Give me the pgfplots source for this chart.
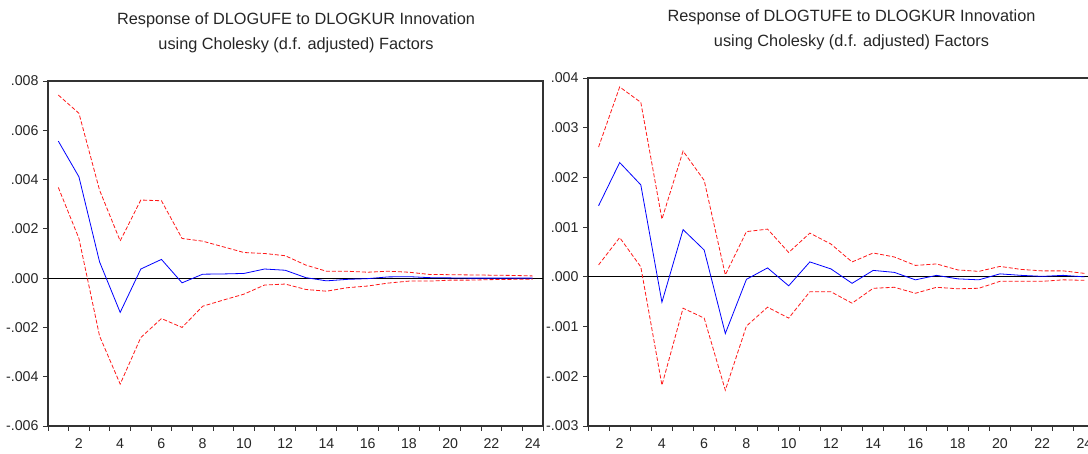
\documentclass[border=0pt]{standalone}
\usepackage{fontspec}
\setmainfont{Liberation Sans}
\usepackage{pgfplots}
\usepackage{pgfplotstable}
\pgfplotsset{compat=1.18}

\pgfplotstableread{
k resp up lo
1 0.00556 0.00743 0.00368
2 0.00411 0.00669 0.00161
3 0.00066 0.00357 -0.00235
4 -0.00139 0.00151 -0.00430
5 0.00037 0.00317 -0.00241
6 0.00076 0.00314 -0.00164
7 -0.00019 0.00161 -0.00200
8 0.00016 0.00150 -0.00114
9 0.00017 0.00127 -0.00089
10 0.00019 0.00104 -0.00065
11 0.00037 0.00100 -0.00028
12 0.00032 0.00091 -0.00024
13 0.00002 0.00053 -0.00046
14 -0.00011 0.00028 -0.00053
15 -0.00005 0.00028 -0.00039
16 -0.00002 0.00024 -0.00032
17 0.00005 0.00028 -0.00020
18 0.00006 0.00024 -0.00012
19 0.00002 0.00015 -0.00012
20 0.00001 0.00014 -0.00008
21 0.00000 0.00013 -0.00008
22 0.00000 0.00012 -0.00006
23 0.00000 0.00011 -0.00005
24 0.00000 0.00009 -0.00004
}\leftdata

\pgfplotstableread{
k resp up lo
1 0.00143 0.00261 0.00024
2 0.00230 0.00382 0.00079
3 0.00185 0.00351 0.00020
4 -0.00051 0.00116 -0.00218
5 0.00095 0.00253 -0.00063
6 0.00054 0.00194 -0.00083
7 -0.00114 0.00004 -0.00228
8 -0.00005 0.00091 -0.00099
9 0.00018 0.00096 -0.00061
10 -0.00018 0.00049 -0.00083
11 0.00030 0.00088 -0.00030
12 0.00016 0.00066 -0.00030
13 -0.00013 0.00030 -0.00053
14 0.00013 0.00048 -0.00023
15 0.00009 0.00040 -0.00021
16 -0.00006 0.00023 -0.00033
17 0.00003 0.00026 -0.00021
18 -0.00004 0.00014 -0.00024
19 -0.00006 0.00011 -0.00023
20 0.00006 0.00021 -0.00009
21 0.00003 0.00015 -0.00009
22 0.00001 0.00012 -0.00009
23 0.00003 0.00012 -0.00006
24 0.00000 0.00007 -0.00007
}\rightdata

\pgfplotsset{
  irf/.style={
    scale only axis,
    anchor=south west,
    xmin=0.5, xmax=24.5,
    axis line style={black!80, line width=1.2pt},
    tick pos=left,
    tick align=outside,
    xtick={2,4,...,24},
    major x tick style={draw=none},
    minor xtick={0.5,1.5,...,24.5},
    minor tick length=5pt,
    major tick length=5pt,
    tick style={black!80, line width=0.9pt},
    scaled y ticks=false,
    ticklabel style={font=\fontsize{14.2}{16}\selectfont, text=black!85},
    /pgf/number format/assume math mode=true,
    xticklabel style={yshift=-4pt},
    yticklabel style={xshift=-1pt},
    clip=true,
  },
  resp/.style={blue, line width=0.8pt},
  band/.style={red!90!white, line width=0.8pt, dash pattern=on 4pt off 2pt},
}

\begin{document}
\begin{tikzpicture}
\path[use as bounding box] (0pt,0pt) rectangle (1088pt,454pt);

% Left panel
\begin{axis}[irf,
  at={(48pt,28pt)},
  width=495pt, height=345pt,
  ymin=-0.006, ymax=0.008,
  ytick={-0.006,-0.004,-0.002,0,0.002,0.004,0.006,0.008},
  yticklabels={-.006,-.004,-.002,.000,.002,.004,.006,.008},
]
\draw[black, line width=0.8pt] (axis cs:0.5,0) -- (axis cs:24.5,0);
\addplot[resp] table[x=k,y=resp] {\leftdata};
\addplot[band] table[x=k,y=up] {\leftdata};
\addplot[band] table[x=k,y=lo] {\leftdata};
\end{axis}

% Right panel
\begin{axis}[irf,
  at={(588pt,28pt)},
  width=507pt, height=348pt,
  ymin=-0.003, ymax=0.004,
  ytick={-0.003,-0.002,-0.001,0,0.001,0.002,0.003,0.004},
  yticklabels={-.003,-.002,-.001,.000,.001,.002,.003,.004},
]
\draw[black, line width=0.8pt] (axis cs:0.5,0) -- (axis cs:24.5,0);
\addplot[resp] table[x=k,y=resp] {\rightdata};
\addplot[band] table[x=k,y=up] {\rightdata};
\addplot[band] table[x=k,y=lo] {\rightdata};
\end{axis}

% Titles
\begin{scope}[every node/.style={font=\fontsize{16.3}{19}\selectfont, text=black!85, inner sep=0pt, anchor=base}]
\node at (296pt,429pt) {Response of DLOGUFE to DLOGKUR Innovation};
\node at (296pt,404pt) {using Cholesky (d.f. adjusted) Factors};
\node at (851.5pt,432pt) {Response of DLOGTUFE to DLOGKUR Innovation};
\node at (851.5pt,407pt) {using Cholesky (d.f. adjusted) Factors};
\end{scope}
\end{tikzpicture}
\end{document}
